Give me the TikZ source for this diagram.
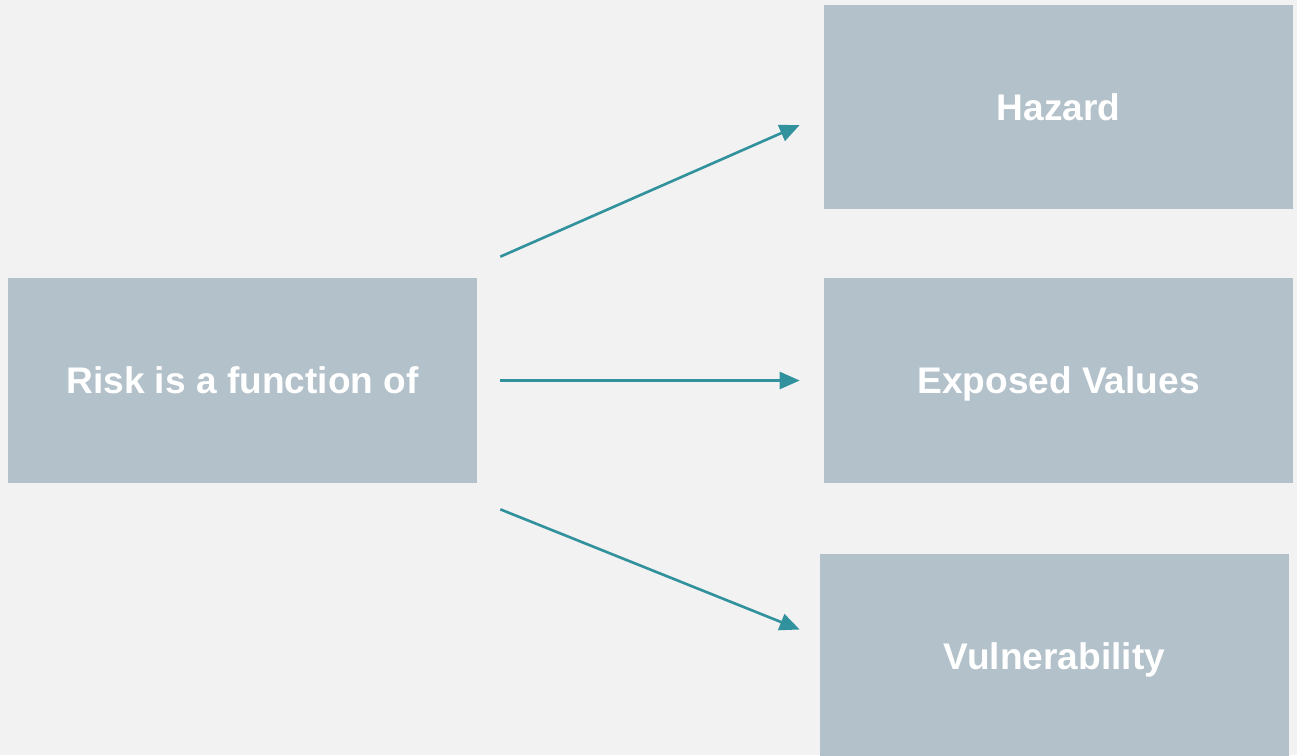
\documentclass[tikz,border=0pt]{standalone}
\usepackage{fontspec}
\setmainfont{Liberation Sans}
\usetikzlibrary{positioning,calc,arrows.meta}
\definecolor{boxfill}{HTML}{B3C1CA}
\definecolor{tealline}{HTML}{31929D}
\definecolor{pagebg}{HTML}{F2F2F2}
\tikzstyle{block} = [fill=boxfill, rectangle, minimum height=4.1cm, minimum width=9.38cm, text height=15.1pt, text depth=0pt, text=white, font=\fontsize{21.1}{25}\selectfont\bfseries]
\tikzstyle{to} = [-{Triangle[length=0.4cm,width=0.34cm]}, draw=tealline, fill=tealline, line width=1.5pt]

\begin{document}
\begin{tikzpicture}[x=0.02cm, y=-0.02cm]
	\fill [pagebg] (0,0) rectangle (1297,755);
	\useasboundingbox (0,0) rectangle (1297,755);
	\node (risk) [block] at (242.5,380.5) {Risk is a function of};
	\node (hazard) [block] at (1058.5,107) {Hazard};
	\node (exposed) [block] at (1058.5,380.5) {Exposed Values};
	\node (vuln) [block] at (1054.5,656.5) {Vulnerability};
	\draw [to] ([shift={(23,-21)}]risk.north east) -- ([shift={(-24,18)}]hazard.west);
	\draw [to] ([shift={(23,0)}]risk.east) -- ([shift={(-24,0)}]exposed.west);
	\draw [to] ([shift={(23,26)}]risk.south east) -- ([shift={(-20,-27)}]vuln.west);
\end{tikzpicture}
\end{document}
